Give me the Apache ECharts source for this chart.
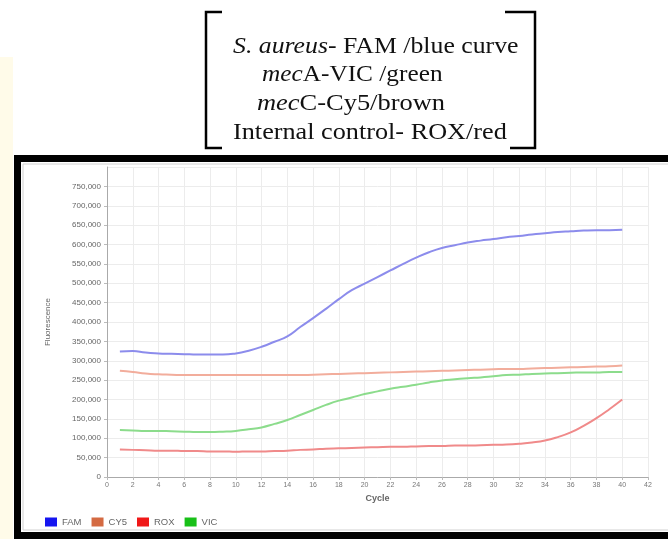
<!DOCTYPE html>
<html><head><meta charset="utf-8">
<script src="https://cdn.jsdelivr.net/npm/echarts@6/dist/echarts.min.js"></script>
<style>html,body{margin:0;padding:0;background:#fff}#c{width:668px;height:539px}</style>
</head><body><div id="c"></div>
<script>
const cycles = [1,2,3,4,5,6,7,8,9,10,11,12,13,14,15,16,17,18,19,20,21,22,23,24,25,26,27,28,29,30,31,32,33,34,35,36,37,38,39,40];
const FAM = [324000,325000,321000,319000,318000,317000,316000,316000,316000,319000,326000,336000,349000,363000,387000,410000,434000,459000,482000,499000,516000,533000,550000,566000,580000,591000,598000,605000,610000,614000,619000,622000,626000,629000,632000,634000,636000,637000,637000,638000];
const CY5 = [274000,271000,267000,265000,264000,263000,263000,263000,263000,263000,263000,263000,263000,263000,263000,264000,265000,266000,267000,268000,269000,270000,271000,272000,273000,274000,275000,276000,277000,278000,279000,279000,280000,281000,282000,283000,284000,285000,286000,288000];
const ROX = [71000,70000,69000,68000,68000,67000,67000,66000,66000,65000,66000,66000,67000,68000,70000,71000,73000,74000,75000,76000,77000,78000,78000,79000,80000,80000,81000,81000,82000,83000,84000,86000,89000,94000,103000,115000,132000,152000,175000,200000];
const VIC = [121000,120000,119000,119000,118000,117000,116000,116000,117000,119000,123000,128000,137000,147000,160000,173000,186000,197000,205000,214000,221000,228000,233000,238000,244000,249000,252000,255000,257000,260000,263000,264000,266000,267000,268000,269000,270000,270000,271000,271000];
const seriesNames = ['FAM','CY5','ROX','VIC'];
const noteLines = ['{i|S. aureus}- FAM /blue curve','{i|mec}A-VIC /green','{i|mec}C-Cy5/brown','Internal control- ROX/red'];

const legendColors = {FAM:'#1515f0', CY5:'#d46a42', ROX:'#f01818', VIC:'#18c018'};
const lineColors = {FAM:'#8c8cec', CY5:'#f2ad9c', ROX:'#f08a8a', VIC:'#8cdc8c'};
const values = {FAM, CY5, ROX, VIC};

const chart = echarts.init(document.getElementById('c'));
const serif = '"Liberation Serif", serif';
const sans = '"Liberation Sans", Arial';
const noteX = [233, 262, 257, 233];
const noteY = [47, 75, 104, 133];
const graphics = [
  {type:'rect', shape:{x:0,y:57,width:13,height:482}, style:{fill:'#fffbe9'}, silent:true},
  {type:'rect', shape:{x:14,y:155,width:660,height:7}, style:{fill:'#000'}, silent:true},
  {type:'rect', shape:{x:14,y:155,width:7,height:384}, style:{fill:'#000'}, silent:true},
  {type:'rect', shape:{x:14,y:532,width:660,height:7}, style:{fill:'#000'}, silent:true},
  {type:'rect', shape:{x:23,y:164,width:660,height:366}, style:{fill:'none', stroke:'#d0d0d0', lineWidth:1}, silent:true},
  {type:'polyline', shape:{points:[[222,12],[206,12],[206,148],[222,148]]}, style:{stroke:'#000', lineWidth:2.5, fill:'none'}, silent:true},
  {type:'polyline', shape:{points:[[505,12],[535,12],[535,148],[510,148]]}, style:{stroke:'#000', lineWidth:2.5, fill:'none'}, silent:true}
];
const noteScale = [1.12, 1.1, 1.15, 1.14];
noteLines.forEach((t,i)=>{
  graphics.push({type:'text', x:noteX[i], y:noteY[i], scaleX:noteScale[i], silent:true,
    style:{text:t, fill:'#111', fontSize:23, fontFamily:serif, verticalAlign:'middle',
      rich:{i:{fontStyle:'italic', fontSize:23, fontFamily:serif, fill:'#111'}}}});
});

chart.setOption({
  animation:false,
  backgroundColor:'#fff',
  graphic: graphics,
  grid:{left:107, right:20, top:167, bottom:62, containLabel:false},
  legend:{
    left:40, top:512, icon:'rect', itemWidth:12, itemHeight:9, itemGap:10,
    textStyle:{fontSize:9.5, color:'#666', fontFamily:sans},
    data: seriesNames.map(n=>({name:n, itemStyle:{color:legendColors[n]}}))
  },
  xAxis:{
    type:'value', min:0, max:42, interval:2,
    name:'Cycle', nameLocation:'middle', nameGap:17,
    nameTextStyle:{fontSize:9, color:'#666', fontWeight:'bold', fontFamily:sans},
    axisLine:{show:true, lineStyle:{color:'#aaa'}},
    axisTick:{show:true, length:3, lineStyle:{color:'#bbb'}},
    axisLabel:{fontSize:7, color:'#777', margin:5, fontFamily:sans},
    splitLine:{show:true, lineStyle:{color:'#ececec'}}
  },
  yAxis:{
    type:'value', min:0, max:800000, interval:50000,
    name:'Fluorescence', nameLocation:'middle', nameGap:55,
    nameTextStyle:{fontSize:8, color:'#666', fontFamily:sans},
    axisLine:{show:true, lineStyle:{color:'#aaa'}},
    axisTick:{show:true, length:3, lineStyle:{color:'#bbb'}},
    axisLabel:{fontSize:8, color:'#666', margin:6, showMaxLabel:false, fontFamily:sans,
      formatter:v=>v.toLocaleString('en-US')},
    splitLine:{show:true, lineStyle:{color:'#ececec'}}
  },
  series: seriesNames.map(n=>({
    name:n, type:'line', smooth:true, symbol:'none',
    data: cycles.map((c,i)=>[c, values[n][i]]),
    itemStyle:{color:legendColors[n]},
    lineStyle:{color:lineColors[n], width:2}
  }))
});
</script></body></html>
